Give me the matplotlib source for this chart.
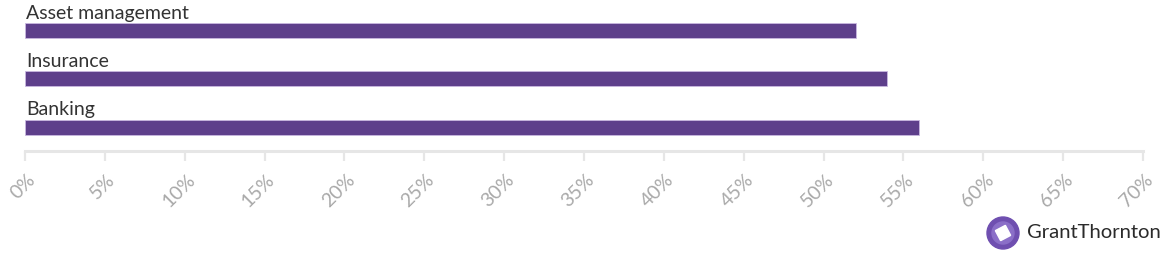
import matplotlib
matplotlib.use("Agg")
import matplotlib.pyplot as plt
from matplotlib.patches import Circle, RegularPolygon
from matplotlib.ticker import FuncFormatter
import matplotlib.transforms as mtransforms

categories = ["Asset management", "Insurance", "Banking"]
values = [52, 54, 56]
xticks = list(range(0, 75, 5))

BAR = "#5e3f8b"
W, H = 1166, 261
fig = plt.figure(figsize=(W / 100, H / 100), dpi=100)
fig.patch.set_facecolor("white")

ax = fig.add_axes([25 / W, (H - 151) / H, (1143 - 25) / W, 151 / H])
ypos = [2, 1, 0]
ax.barh(ypos, values, height=0.31, color=BAR, edgecolor="#c9b8e0", linewidth=0.6)
for y, c in zip(ypos, categories):
    ax.text(0.05, y + 0.18, c, ha="left", va="bottom", fontsize=14,
            family="Lato", color="#333333")

ax.set_xlim(0, 70)
ax.set_ylim(-0.495, 2.629)
ax.set_yticks([])
for s in ["top", "right", "left"]:
    ax.spines[s].set_visible(False)
ax.spines["bottom"].set_color("#e6e6e6")
ax.spines["bottom"].set_linewidth(2.2)
ax.set_xticks(xticks)
ax.xaxis.set_major_formatter(FuncFormatter(lambda v, p: f"{int(v)}%"))
ax.tick_params(axis="x", length=7.5, width=1.6, color="#e6e6e6",
               labelcolor="#a9a9a9", labelsize=14, pad=2)
offset = mtransforms.ScaledTranslation(1.5 / 100, -7 / 100, fig.dpi_scale_trans)
for lab in ax.get_xticklabels():
    lab.set_rotation(45)
    lab.set_ha("right")
    lab.set_va("top")
    lab.set_rotation_mode("anchor")
    lab.set_family("Lato")
    lab.set_transform(lab.get_transform() + offset)

# logo
lax = fig.add_axes([0, 0, 1, 1], facecolor="none")
lax.set_xlim(0, W)
lax.set_ylim(H, 0)
lax.axis("off")
lax.add_patch(Circle((1003, 233), 16, color="#6f4fb0"))
lax.add_patch(Circle((1003, 233), 11, color="#8b6fc8"))
lax.add_patch(RegularPolygon((1003, 233), 4, radius=8, orientation=0.3, color="white"))
lax.text(1027, 238, "GrantThornton", ha="left", va="baseline", fontsize=14.6,
         family="Lato", color="#2b2b2b")

fig.savefig("out.png", dpi=100, facecolor="white")
